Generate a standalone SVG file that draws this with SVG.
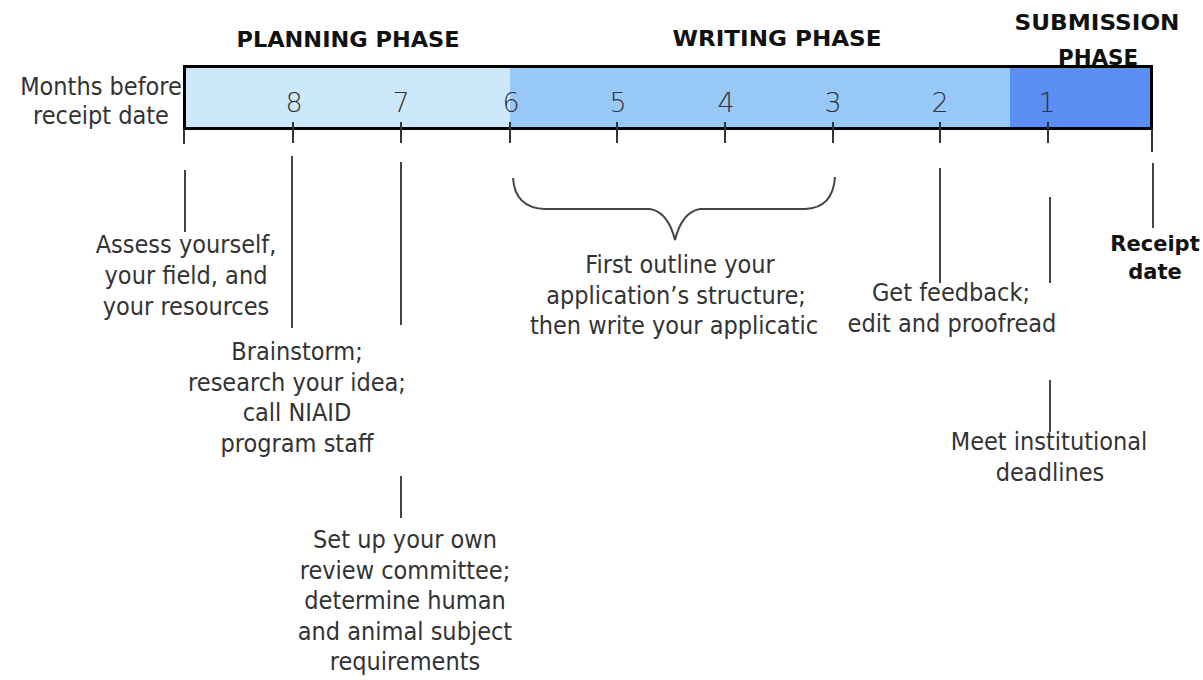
<svg xmlns="http://www.w3.org/2000/svg" width="1203" height="680" viewBox="0 0 1203 680">
<style>
.t{font-family:"DejaVu Sans Condensed","DejaVu Sans",sans-serif;font-stretch:condensed;font-size:25px;fill:#333;text-anchor:middle}
.ph{font-family:"DejaVu Sans","Liberation Sans",sans-serif;font-weight:bold;font-size:22px;fill:#111;text-anchor:middle}
.rc{font-family:"DejaVu Sans","Liberation Sans",sans-serif;font-weight:bold;font-size:21px;fill:#111;text-anchor:middle}
.num{font-family:"DejaVu Sans","Liberation Sans",sans-serif;font-weight:200;font-size:27px;fill:#333;text-anchor:middle}
.ld{stroke:#444;stroke-width:2;fill:none}
.tk{stroke:#333;stroke-width:2}
</style>
<rect width="1203" height="680" fill="#fff"/>
<g id="phases">
<text class="ph" x="348" y="47" textLength="223" lengthAdjust="spacingAndGlyphs">PLANNING PHASE</text>
<text class="ph" x="777" y="46" textLength="209" lengthAdjust="spacingAndGlyphs">WRITING PHASE</text>
<text class="ph" x="1097" y="30" textLength="165" lengthAdjust="spacingAndGlyphs">SUBMISSION</text>
<text class="ph" x="1098" y="65" textLength="80" lengthAdjust="spacingAndGlyphs">PHASE</text>
</g>
<g id="axis-label">
<text class="t" x="101" y="95">Months before</text>
<text class="t" x="101" y="124">receipt date</text>
</g>
<g id="timeline">
<rect x="184" y="66" width="326" height="63" fill="#cde8fb"/>
<rect x="510" y="66" width="500" height="63" fill="#98c8f6"/>
<rect x="1010" y="66" width="142" height="63" fill="#5b8ef2"/>
<rect x="184.5" y="66.5" width="967" height="62" fill="none" stroke="#000" stroke-width="3"/>
<text class="num" x="294" y="112">8</text>
<text class="num" x="401" y="112">7</text>
<text class="num" x="511" y="112">6</text>
<text class="num" x="618" y="112">5</text>
<text class="num" x="726" y="112">4</text>
<text class="num" x="833" y="112">3</text>
<text class="num" x="940" y="112">2</text>
<text class="num" x="1047" y="112">1</text>
<g class="tk">
<line x1="184" y1="129" x2="184" y2="144"/>
<line x1="293" y1="122" x2="293" y2="143"/>
<line x1="401" y1="122" x2="401" y2="143"/>
<line x1="510" y1="122" x2="510" y2="143"/>
<line x1="617" y1="122" x2="617" y2="143"/>
<line x1="725" y1="122" x2="725" y2="143"/>
<line x1="833" y1="122" x2="833" y2="143"/>
<line x1="940" y1="122" x2="940" y2="143"/>
<line x1="1048" y1="122" x2="1048" y2="143"/>
<line x1="1152" y1="129" x2="1152" y2="152"/>
</g>
</g>
<g id="connectors">
<line class="ld" x1="185" y1="170" x2="185" y2="232"/>
<line class="ld" x1="292" y1="156" x2="292" y2="328"/>
<line class="ld" x1="401" y1="162" x2="401" y2="325"/>
<line class="ld" x1="401" y1="476" x2="401" y2="518"/>
<line class="ld" x1="940" y1="168" x2="940" y2="283"/>
<line class="ld" x1="1050" y1="197" x2="1050" y2="283"/>
<line class="ld" x1="1050" y1="380" x2="1050" y2="432"/>
<line class="ld" x1="1153" y1="163" x2="1153" y2="228"/>
<path class="ld" d="M513,178 Q515,208 545,209 L650,209 Q668,212 675,240 Q682,212 700,209 L805,209 Q833,208 835,177"/>
</g>
<g id="n-assess">
<text class="t" x="186" y="253">Assess yourself,</text>
<text class="t" x="186" y="284">your field, and</text>
<text class="t" x="186" y="315">your resources</text>
</g>
<g id="n-brainstorm">
<text class="t" x="297" y="360">Brainstorm;</text>
<text class="t" x="297" y="391">research your idea;</text>
<text class="t" x="297" y="421">call NIAID</text>
<text class="t" x="297" y="452">program staff</text>
</g>
<g id="n-review">
<text class="t" x="405" y="548">Set up your own</text>
<text class="t" x="405" y="579">review committee;</text>
<text class="t" x="405" y="609">determine human</text>
<text class="t" x="405" y="640">and animal subject</text>
<text class="t" x="405" y="670">requirements</text>
</g>
<g id="n-outline">
<text class="t" x="680" y="273">First outline your</text>
<text class="t" x="676" y="304">application’s structure;</text>
<text class="t" x="674" y="334">then write your applicatic</text>
</g>
<g id="n-feedback">
<text class="t" x="951" y="301">Get feedback;</text>
<text class="t" x="952" y="332">edit and proofread</text>
</g>
<g id="n-meet">
<text class="t" x="1049" y="450">Meet institutional</text>
<text class="t" x="1050" y="481">deadlines</text>
</g>
<g id="n-receipt">
<text class="rc" x="1155" y="251">Receipt</text>
<text class="rc" x="1155" y="279">date</text>
</g>
</svg>
